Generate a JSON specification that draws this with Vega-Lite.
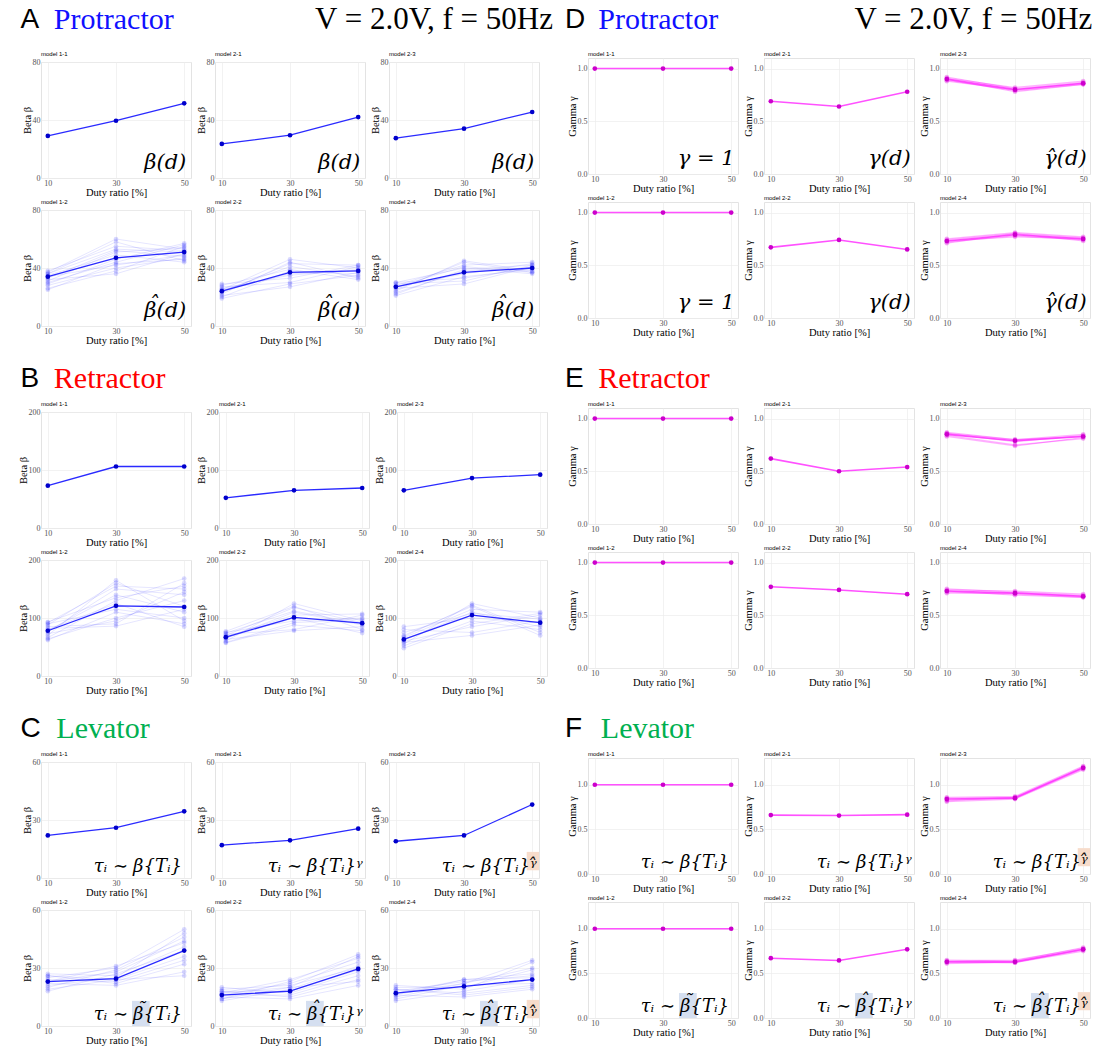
{
"$schema": "https://vega.github.io/schema/vega-lite/v6.json",
"padding": {"left": 17, "top": 4, "right": 0, "bottom": 0},
"background": "white",
"config": {
  "font": "Liberation Serif",
  "view": {"stroke": "#e3e3e3", "strokeWidth": 1},
  "axis": {"labelFont": "Liberation Serif", "labelFontSize": 8, "labelColor": "#555555", "titleFont": "Liberation Serif", "titleFontSize": 10.5, "titleFontWeight": "normal", "titleColor": "black", "ticks": false, "domain": false, "gridColor": "#ececec", "gridWidth": 0.7, "labelPadding": 1, "titlePadding": 0},
  "header": {"labelFont": "Liberation Sans", "labelFontSize": 6, "labelAnchor": "start", "labelPadding": 1, "labelColor": "black", "title": null},
  "text": {"font": "Liberation Serif"}
},
"datasets": {
"A": [
{"m":"model 1-1","k":0,"d":10,"v":29},{"m":"model 1-1","k":0,"d":30,"v":39.5},{"m":"model 1-1","k":0,"d":50,"v":51.5},
{"m":"model 2-1","k":0,"d":10,"v":23.5},{"m":"model 2-1","k":0,"d":30,"v":29.5},{"m":"model 2-1","k":0,"d":50,"v":42},
{"m":"model 2-3","k":0,"d":10,"v":27.5},{"m":"model 2-3","k":0,"d":30,"v":34},{"m":"model 2-3","k":0,"d":50,"v":45.5},
{"m":"model 1-2","k":0,"d":10,"v":34},{"m":"model 1-2","k":0,"d":30,"v":47},{"m":"model 1-2","k":0,"d":50,"v":51},
{"m":"model 1-2","k":1,"d":10,"v":36},{"m":"model 1-2","k":1,"d":30,"v":58},{"m":"model 1-2","k":1,"d":50,"v":45},
{"m":"model 1-2","k":2,"d":10,"v":26},{"m":"model 1-2","k":2,"d":30,"v":38},{"m":"model 1-2","k":2,"d":50,"v":55},
{"m":"model 1-2","k":3,"d":10,"v":33},{"m":"model 1-2","k":3,"d":30,"v":52},{"m":"model 1-2","k":3,"d":50,"v":48},
{"m":"model 1-2","k":4,"d":10,"v":30},{"m":"model 1-2","k":4,"d":30,"v":44},{"m":"model 1-2","k":4,"d":50,"v":56},
{"m":"model 1-2","k":5,"d":10,"v":38},{"m":"model 1-2","k":5,"d":30,"v":55},{"m":"model 1-2","k":5,"d":50,"v":52},
{"m":"model 1-2","k":6,"d":10,"v":28},{"m":"model 1-2","k":6,"d":30,"v":40},{"m":"model 1-2","k":6,"d":50,"v":47},
{"m":"model 1-2","k":7,"d":10,"v":35},{"m":"model 1-2","k":7,"d":30,"v":49},{"m":"model 1-2","k":7,"d":50,"v":44},
{"m":"model 1-2","k":8,"d":10,"v":32},{"m":"model 1-2","k":8,"d":30,"v":36},{"m":"model 1-2","k":8,"d":50,"v":50},
{"m":"model 1-2","k":9,"d":10,"v":37},{"m":"model 1-2","k":9,"d":30,"v":60},{"m":"model 1-2","k":9,"d":50,"v":53},
{"m":"model 1-2","k":10,"d":10,"v":29},{"m":"model 1-2","k":10,"d":30,"v":46},{"m":"model 1-2","k":10,"d":50,"v":57},
{"m":"model 1-2","k":11,"d":10,"v":34},{"m":"model 1-2","k":11,"d":30,"v":42},{"m":"model 1-2","k":11,"d":50,"v":49},
{"m":"model 1-2","k":12,"d":10,"v":31},{"m":"model 1-2","k":12,"d":30,"v":51},{"m":"model 1-2","k":12,"d":50,"v":54},
{"m":"model 1-2","k":13,"d":10,"v":25},{"m":"model 1-2","k":13,"d":30,"v":43},{"m":"model 1-2","k":13,"d":50,"v":46},
{"m":"model 1-2","k":14,"d":10,"v":36},{"m":"model 1-2","k":14,"d":30,"v":53},{"m":"model 1-2","k":14,"d":50,"v":51},
{"m":"model 2-2","k":0,"d":10,"v":24},{"m":"model 2-2","k":0,"d":30,"v":37},{"m":"model 2-2","k":0,"d":50,"v":38},
{"m":"model 2-2","k":1,"d":10,"v":22},{"m":"model 2-2","k":1,"d":30,"v":44},{"m":"model 2-2","k":1,"d":50,"v":33},
{"m":"model 2-2","k":2,"d":10,"v":27},{"m":"model 2-2","k":2,"d":30,"v":30},{"m":"model 2-2","k":2,"d":50,"v":41},
{"m":"model 2-2","k":3,"d":10,"v":20},{"m":"model 2-2","k":3,"d":30,"v":38},{"m":"model 2-2","k":3,"d":50,"v":36},
{"m":"model 2-2","k":4,"d":10,"v":25},{"m":"model 2-2","k":4,"d":30,"v":46},{"m":"model 2-2","k":4,"d":50,"v":40},
{"m":"model 2-2","k":5,"d":10,"v":29},{"m":"model 2-2","k":5,"d":30,"v":33},{"m":"model 2-2","k":5,"d":50,"v":42},
{"m":"model 2-2","k":6,"d":10,"v":21},{"m":"model 2-2","k":6,"d":30,"v":27},{"m":"model 2-2","k":6,"d":50,"v":37},
{"m":"model 2-2","k":7,"d":10,"v":24},{"m":"model 2-2","k":7,"d":30,"v":41},{"m":"model 2-2","k":7,"d":50,"v":34},
{"m":"model 2-2","k":8,"d":10,"v":26},{"m":"model 2-2","k":8,"d":30,"v":35},{"m":"model 2-2","k":8,"d":50,"v":39},
{"m":"model 2-2","k":9,"d":10,"v":19},{"m":"model 2-2","k":9,"d":30,"v":29},{"m":"model 2-2","k":9,"d":50,"v":35},
{"m":"model 2-2","k":10,"d":10,"v":23},{"m":"model 2-2","k":10,"d":30,"v":43},{"m":"model 2-2","k":10,"d":50,"v":42},
{"m":"model 2-2","k":11,"d":10,"v":28},{"m":"model 2-2","k":11,"d":30,"v":39},{"m":"model 2-2","k":11,"d":50,"v":32},
{"m":"model 2-2","k":12,"d":10,"v":25},{"m":"model 2-2","k":12,"d":30,"v":36},{"m":"model 2-2","k":12,"d":50,"v":38},
{"m":"model 2-4","k":0,"d":10,"v":27},{"m":"model 2-4","k":0,"d":30,"v":37},{"m":"model 2-4","k":0,"d":50,"v":40},
{"m":"model 2-4","k":1,"d":10,"v":25},{"m":"model 2-4","k":1,"d":30,"v":44},{"m":"model 2-4","k":1,"d":50,"v":37},
{"m":"model 2-4","k":2,"d":10,"v":29},{"m":"model 2-4","k":2,"d":30,"v":31},{"m":"model 2-4","k":2,"d":50,"v":42},
{"m":"model 2-4","k":3,"d":10,"v":23},{"m":"model 2-4","k":3,"d":30,"v":38},{"m":"model 2-4","k":3,"d":50,"v":40},
{"m":"model 2-4","k":4,"d":10,"v":28},{"m":"model 2-4","k":4,"d":30,"v":42},{"m":"model 2-4","k":4,"d":50,"v":44},
{"m":"model 2-4","k":5,"d":10,"v":21},{"m":"model 2-4","k":5,"d":30,"v":34},{"m":"model 2-4","k":5,"d":50,"v":39},
{"m":"model 2-4","k":6,"d":10,"v":30},{"m":"model 2-4","k":6,"d":30,"v":40},{"m":"model 2-4","k":6,"d":50,"v":36},
{"m":"model 2-4","k":7,"d":10,"v":26},{"m":"model 2-4","k":7,"d":30,"v":29},{"m":"model 2-4","k":7,"d":50,"v":41},
{"m":"model 2-4","k":8,"d":10,"v":27},{"m":"model 2-4","k":8,"d":30,"v":36},{"m":"model 2-4","k":8,"d":50,"v":43},
{"m":"model 2-4","k":9,"d":10,"v":24},{"m":"model 2-4","k":9,"d":30,"v":45},{"m":"model 2-4","k":9,"d":50,"v":38},
{"m":"model 2-4","k":10,"d":10,"v":30},{"m":"model 2-4","k":10,"d":30,"v":33},{"m":"model 2-4","k":10,"d":50,"v":40},
{"m":"model 2-4","k":11,"d":10,"v":22},{"m":"model 2-4","k":11,"d":30,"v":39},{"m":"model 2-4","k":11,"d":50,"v":42},
{"m":"model 2-4","k":12,"d":10,"v":27},{"m":"model 2-4","k":12,"d":30,"v":41},{"m":"model 2-4","k":12,"d":50,"v":37},
{"m":"model 1-1","tail":"β(d)"},{"m":"model 2-1","tail":"β(d)"},{"m":"model 2-3","tail":"β(d)"},
{"m":"model 1-2","tail":"β(d)","acc":"ˆ"},{"m":"model 2-2","tail":"β(d)","acc":"ˆ"},{"m":"model 2-4","tail":"β(d)","acc":"ˆ"}
],
"B": [
{"m":"model 1-1","k":0,"d":10,"v":73},{"m":"model 1-1","k":0,"d":30,"v":106},{"m":"model 1-1","k":0,"d":50,"v":106},
{"m":"model 2-1","k":0,"d":10,"v":52},{"m":"model 2-1","k":0,"d":30,"v":65},{"m":"model 2-1","k":0,"d":50,"v":69},
{"m":"model 2-3","k":0,"d":10,"v":65},{"m":"model 2-3","k":0,"d":30,"v":86},{"m":"model 2-3","k":0,"d":50,"v":92},
{"m":"model 1-2","k":0,"d":10,"v":78},{"m":"model 1-2","k":0,"d":30,"v":121},{"m":"model 1-2","k":0,"d":50,"v":119},
{"m":"model 1-2","k":1,"d":10,"v":70},{"m":"model 1-2","k":1,"d":30,"v":165},{"m":"model 1-2","k":1,"d":50,"v":95},
{"m":"model 1-2","k":2,"d":10,"v":85},{"m":"model 1-2","k":2,"d":30,"v":90},{"m":"model 1-2","k":2,"d":50,"v":160},
{"m":"model 1-2","k":3,"d":10,"v":78},{"m":"model 1-2","k":3,"d":30,"v":140},{"m":"model 1-2","k":3,"d":50,"v":110},
{"m":"model 1-2","k":4,"d":10,"v":92},{"m":"model 1-2","k":4,"d":30,"v":155},{"m":"model 1-2","k":4,"d":50,"v":150},
{"m":"model 1-2","k":5,"d":10,"v":64},{"m":"model 1-2","k":5,"d":30,"v":100},{"m":"model 1-2","k":5,"d":50,"v":130},
{"m":"model 1-2","k":6,"d":10,"v":80},{"m":"model 1-2","k":6,"d":30,"v":125},{"m":"model 1-2","k":6,"d":50,"v":85},
{"m":"model 1-2","k":7,"d":10,"v":88},{"m":"model 1-2","k":7,"d":30,"v":160},{"m":"model 1-2","k":7,"d":50,"v":120},
{"m":"model 1-2","k":8,"d":10,"v":73},{"m":"model 1-2","k":8,"d":30,"v":95},{"m":"model 1-2","k":8,"d":50,"v":145},
{"m":"model 1-2","k":9,"d":10,"v":66},{"m":"model 1-2","k":9,"d":30,"v":130},{"m":"model 1-2","k":9,"d":50,"v":168},
{"m":"model 1-2","k":10,"d":10,"v":90},{"m":"model 1-2","k":10,"d":30,"v":115},{"m":"model 1-2","k":10,"d":50,"v":100},
{"m":"model 1-2","k":11,"d":10,"v":76},{"m":"model 1-2","k":11,"d":30,"v":150},{"m":"model 1-2","k":11,"d":50,"v":140},
{"m":"model 1-2","k":12,"d":10,"v":82},{"m":"model 1-2","k":12,"d":30,"v":86},{"m":"model 1-2","k":12,"d":50,"v":115},
{"m":"model 1-2","k":13,"d":10,"v":62},{"m":"model 1-2","k":13,"d":30,"v":110},{"m":"model 1-2","k":13,"d":50,"v":90},
{"m":"model 1-2","k":14,"d":10,"v":93},{"m":"model 1-2","k":14,"d":30,"v":135},{"m":"model 1-2","k":14,"d":50,"v":155},
{"m":"model 2-2","k":0,"d":10,"v":67},{"m":"model 2-2","k":0,"d":30,"v":101},{"m":"model 2-2","k":0,"d":50,"v":91},
{"m":"model 2-2","k":1,"d":10,"v":60},{"m":"model 2-2","k":1,"d":30,"v":125},{"m":"model 2-2","k":1,"d":50,"v":95},
{"m":"model 2-2","k":2,"d":10,"v":72},{"m":"model 2-2","k":2,"d":30,"v":80},{"m":"model 2-2","k":2,"d":50,"v":105},
{"m":"model 2-2","k":3,"d":10,"v":65},{"m":"model 2-2","k":3,"d":30,"v":110},{"m":"model 2-2","k":3,"d":50,"v":88},
{"m":"model 2-2","k":4,"d":10,"v":75},{"m":"model 2-2","k":4,"d":30,"v":95},{"m":"model 2-2","k":4,"d":50,"v":100},
{"m":"model 2-2","k":5,"d":10,"v":57},{"m":"model 2-2","k":5,"d":30,"v":88},{"m":"model 2-2","k":5,"d":50,"v":78},
{"m":"model 2-2","k":6,"d":10,"v":70},{"m":"model 2-2","k":6,"d":30,"v":118},{"m":"model 2-2","k":6,"d":50,"v":92},
{"m":"model 2-2","k":7,"d":10,"v":63},{"m":"model 2-2","k":7,"d":30,"v":78},{"m":"model 2-2","k":7,"d":50,"v":85},
{"m":"model 2-2","k":8,"d":10,"v":68},{"m":"model 2-2","k":8,"d":30,"v":105},{"m":"model 2-2","k":8,"d":50,"v":107},
{"m":"model 2-2","k":9,"d":10,"v":77},{"m":"model 2-2","k":9,"d":30,"v":120},{"m":"model 2-2","k":9,"d":50,"v":80},
{"m":"model 2-2","k":10,"d":10,"v":58},{"m":"model 2-2","k":10,"d":30,"v":92},{"m":"model 2-2","k":10,"d":50,"v":98},
{"m":"model 2-2","k":11,"d":10,"v":66},{"m":"model 2-2","k":11,"d":30,"v":100},{"m":"model 2-2","k":11,"d":50,"v":74},
{"m":"model 2-2","k":12,"d":10,"v":74},{"m":"model 2-2","k":12,"d":30,"v":112},{"m":"model 2-2","k":12,"d":50,"v":90},
{"m":"model 2-4","k":0,"d":10,"v":63},{"m":"model 2-4","k":0,"d":30,"v":105},{"m":"model 2-4","k":0,"d":50,"v":92},
{"m":"model 2-4","k":1,"d":10,"v":55},{"m":"model 2-4","k":1,"d":30,"v":125},{"m":"model 2-4","k":1,"d":50,"v":100},
{"m":"model 2-4","k":2,"d":10,"v":80},{"m":"model 2-4","k":2,"d":30,"v":75},{"m":"model 2-4","k":2,"d":50,"v":95},
{"m":"model 2-4","k":3,"d":10,"v":62},{"m":"model 2-4","k":3,"d":30,"v":110},{"m":"model 2-4","k":3,"d":50,"v":85},
{"m":"model 2-4","k":4,"d":10,"v":48},{"m":"model 2-4","k":4,"d":30,"v":90},{"m":"model 2-4","k":4,"d":50,"v":108},
{"m":"model 2-4","k":5,"d":10,"v":70},{"m":"model 2-4","k":5,"d":30,"v":120},{"m":"model 2-4","k":5,"d":50,"v":70},
{"m":"model 2-4","k":6,"d":10,"v":85},{"m":"model 2-4","k":6,"d":30,"v":100},{"m":"model 2-4","k":6,"d":50,"v":92},
{"m":"model 2-4","k":7,"d":10,"v":58},{"m":"model 2-4","k":7,"d":30,"v":70},{"m":"model 2-4","k":7,"d":50,"v":88},
{"m":"model 2-4","k":8,"d":10,"v":66},{"m":"model 2-4","k":8,"d":30,"v":115},{"m":"model 2-4","k":8,"d":50,"v":110},
{"m":"model 2-4","k":9,"d":10,"v":52},{"m":"model 2-4","k":9,"d":30,"v":95},{"m":"model 2-4","k":9,"d":50,"v":80},
{"m":"model 2-4","k":10,"d":10,"v":75},{"m":"model 2-4","k":10,"d":30,"v":108},{"m":"model 2-4","k":10,"d":50,"v":98},
{"m":"model 2-4","k":11,"d":10,"v":60},{"m":"model 2-4","k":11,"d":30,"v":85},{"m":"model 2-4","k":11,"d":50,"v":105},
{"m":"model 2-4","k":12,"d":10,"v":68},{"m":"model 2-4","k":12,"d":30,"v":122},{"m":"model 2-4","k":12,"d":50,"v":75}
],
"C": [
{"m":"model 1-1","k":0,"d":10,"v":22},{"m":"model 1-1","k":0,"d":30,"v":26},{"m":"model 1-1","k":0,"d":50,"v":34.5},
{"m":"model 2-1","k":0,"d":10,"v":17},{"m":"model 2-1","k":0,"d":30,"v":19.5},{"m":"model 2-1","k":0,"d":50,"v":25.5},
{"m":"model 2-3","k":0,"d":10,"v":19},{"m":"model 2-3","k":0,"d":30,"v":22},{"m":"model 2-3","k":0,"d":50,"v":38},
{"m":"model 1-2","k":0,"d":10,"v":23},{"m":"model 1-2","k":0,"d":30,"v":24.5},{"m":"model 1-2","k":0,"d":50,"v":39},
{"m":"model 1-2","k":1,"d":10,"v":21},{"m":"model 1-2","k":1,"d":30,"v":25},{"m":"model 1-2","k":1,"d":50,"v":48},
{"m":"model 1-2","k":2,"d":10,"v":26},{"m":"model 1-2","k":2,"d":30,"v":22},{"m":"model 1-2","k":2,"d":50,"v":32},
{"m":"model 1-2","k":3,"d":10,"v":23},{"m":"model 1-2","k":3,"d":30,"v":28},{"m":"model 1-2","k":3,"d":50,"v":44},
{"m":"model 1-2","k":4,"d":10,"v":19},{"m":"model 1-2","k":4,"d":30,"v":24},{"m":"model 1-2","k":4,"d":50,"v":36},
{"m":"model 1-2","k":5,"d":10,"v":25},{"m":"model 1-2","k":5,"d":30,"v":30},{"m":"model 1-2","k":5,"d":50,"v":50},
{"m":"model 1-2","k":6,"d":10,"v":22},{"m":"model 1-2","k":6,"d":30,"v":21},{"m":"model 1-2","k":6,"d":50,"v":28},
{"m":"model 1-2","k":7,"d":10,"v":27},{"m":"model 1-2","k":7,"d":30,"v":26},{"m":"model 1-2","k":7,"d":50,"v":41},
{"m":"model 1-2","k":8,"d":10,"v":20},{"m":"model 1-2","k":8,"d":30,"v":29},{"m":"model 1-2","k":8,"d":50,"v":46},
{"m":"model 1-2","k":9,"d":10,"v":24},{"m":"model 1-2","k":9,"d":30,"v":23},{"m":"model 1-2","k":9,"d":50,"v":34},
{"m":"model 1-2","k":10,"d":10,"v":18},{"m":"model 1-2","k":10,"d":30,"v":27},{"m":"model 1-2","k":10,"d":50,"v":39},
{"m":"model 1-2","k":11,"d":10,"v":23},{"m":"model 1-2","k":11,"d":30,"v":31},{"m":"model 1-2","k":11,"d":50,"v":43},
{"m":"model 1-2","k":12,"d":10,"v":26},{"m":"model 1-2","k":12,"d":30,"v":24},{"m":"model 1-2","k":12,"d":50,"v":26},
{"m":"model 2-2","k":0,"d":10,"v":16},{"m":"model 2-2","k":0,"d":30,"v":18},{"m":"model 2-2","k":0,"d":50,"v":29.5},
{"m":"model 2-2","k":1,"d":10,"v":14},{"m":"model 2-2","k":1,"d":30,"v":20},{"m":"model 2-2","k":1,"d":50,"v":36},
{"m":"model 2-2","k":2,"d":10,"v":18},{"m":"model 2-2","k":2,"d":30,"v":15},{"m":"model 2-2","k":2,"d":50,"v":24},
{"m":"model 2-2","k":3,"d":10,"v":16},{"m":"model 2-2","k":3,"d":30,"v":22},{"m":"model 2-2","k":3,"d":50,"v":33},
{"m":"model 2-2","k":4,"d":10,"v":20},{"m":"model 2-2","k":4,"d":30,"v":17},{"m":"model 2-2","k":4,"d":50,"v":28},
{"m":"model 2-2","k":5,"d":10,"v":13},{"m":"model 2-2","k":5,"d":30,"v":19},{"m":"model 2-2","k":5,"d":50,"v":31},
{"m":"model 2-2","k":6,"d":10,"v":17},{"m":"model 2-2","k":6,"d":30,"v":24},{"m":"model 2-2","k":6,"d":50,"v":35},
{"m":"model 2-2","k":7,"d":10,"v":15},{"m":"model 2-2","k":7,"d":30,"v":14},{"m":"model 2-2","k":7,"d":50,"v":21},
{"m":"model 2-2","k":8,"d":10,"v":19},{"m":"model 2-2","k":8,"d":30,"v":21},{"m":"model 2-2","k":8,"d":50,"v":30},
{"m":"model 2-2","k":9,"d":10,"v":16},{"m":"model 2-2","k":9,"d":30,"v":16},{"m":"model 2-2","k":9,"d":50,"v":26},
{"m":"model 2-2","k":10,"d":10,"v":14},{"m":"model 2-2","k":10,"d":30,"v":23},{"m":"model 2-2","k":10,"d":50,"v":37},
{"m":"model 2-2","k":11,"d":10,"v":18},{"m":"model 2-2","k":11,"d":30,"v":18},{"m":"model 2-2","k":11,"d":50,"v":29},
{"m":"model 2-2","k":12,"d":10,"v":17},{"m":"model 2-2","k":12,"d":30,"v":20},{"m":"model 2-2","k":12,"d":50,"v":23},
{"m":"model 2-4","k":0,"d":10,"v":17},{"m":"model 2-4","k":0,"d":30,"v":20.5},{"m":"model 2-4","k":0,"d":50,"v":24},
{"m":"model 2-4","k":1,"d":10,"v":15},{"m":"model 2-4","k":1,"d":30,"v":22},{"m":"model 2-4","k":1,"d":50,"v":30},
{"m":"model 2-4","k":2,"d":10,"v":19},{"m":"model 2-4","k":2,"d":30,"v":16},{"m":"model 2-4","k":2,"d":50,"v":20},
{"m":"model 2-4","k":3,"d":10,"v":17},{"m":"model 2-4","k":3,"d":30,"v":24},{"m":"model 2-4","k":3,"d":50,"v":27},
{"m":"model 2-4","k":4,"d":10,"v":21},{"m":"model 2-4","k":4,"d":30,"v":19},{"m":"model 2-4","k":4,"d":50,"v":33},
{"m":"model 2-4","k":5,"d":10,"v":14},{"m":"model 2-4","k":5,"d":30,"v":21},{"m":"model 2-4","k":5,"d":50,"v":22},
{"m":"model 2-4","k":6,"d":10,"v":18},{"m":"model 2-4","k":6,"d":30,"v":23},{"m":"model 2-4","k":6,"d":50,"v":26},
{"m":"model 2-4","k":7,"d":10,"v":16},{"m":"model 2-4","k":7,"d":30,"v":15},{"m":"model 2-4","k":7,"d":50,"v":19},
{"m":"model 2-4","k":8,"d":10,"v":20},{"m":"model 2-4","k":8,"d":30,"v":20},{"m":"model 2-4","k":8,"d":50,"v":29},
{"m":"model 2-4","k":9,"d":10,"v":13},{"m":"model 2-4","k":9,"d":30,"v":18},{"m":"model 2-4","k":9,"d":50,"v":24},
{"m":"model 2-4","k":10,"d":10,"v":17},{"m":"model 2-4","k":10,"d":30,"v":22},{"m":"model 2-4","k":10,"d":50,"v":34},
{"m":"model 2-4","k":11,"d":10,"v":19},{"m":"model 2-4","k":11,"d":30,"v":17},{"m":"model 2-4","k":11,"d":50,"v":21},
{"m":"model 2-4","k":12,"d":10,"v":16},{"m":"model 2-4","k":12,"d":30,"v":24},{"m":"model 2-4","k":12,"d":50,"v":25},
{"m":"model 1-1","head":"τᵢ ∼","tail":"β{Tᵢ}"},
{"m":"model 2-1","head":"τᵢ ∼","tail":"β{Tᵢ}ᵞ"},
{"m":"model 2-3","head":"τᵢ ∼","tail":"β{Tᵢ}ᵞ\u0302","ob":1},
{"m":"model 1-2","head":"τᵢ ∼","tail":"β{Tᵢ}","acc":"˜","bb":1},
{"m":"model 2-2","head":"τᵢ ∼","tail":"β{Tᵢ}ᵞ","acc":"ˆ","bb":1},
{"m":"model 2-4","head":"τᵢ ∼","tail":"β{Tᵢ}ᵞ\u0302","acc":"ˆ","bb":1,"ob":1}
],
"D": [
{"m":"model 1-1","k":0,"d":10,"v":1},{"m":"model 1-1","k":0,"d":30,"v":1},{"m":"model 1-1","k":0,"d":50,"v":1},
{"m":"model 2-1","k":0,"d":10,"v":0.69},{"m":"model 2-1","k":0,"d":30,"v":0.64},{"m":"model 2-1","k":0,"d":50,"v":0.78},
{"m":"model 2-3","k":0,"d":10,"v":0.9},{"m":"model 2-3","k":0,"d":30,"v":0.8},{"m":"model 2-3","k":0,"d":50,"v":0.86},
{"m":"model 2-3","k":1,"d":10,"v":0.92},{"m":"model 2-3","k":1,"d":30,"v":0.81},{"m":"model 2-3","k":1,"d":50,"v":0.87},
{"m":"model 2-3","k":2,"d":10,"v":0.89},{"m":"model 2-3","k":2,"d":30,"v":0.79},{"m":"model 2-3","k":2,"d":50,"v":0.85},
{"m":"model 2-3","k":3,"d":10,"v":0.91},{"m":"model 2-3","k":3,"d":30,"v":0.82},{"m":"model 2-3","k":3,"d":50,"v":0.88},
{"m":"model 2-3","k":4,"d":10,"v":0.88},{"m":"model 2-3","k":4,"d":30,"v":0.8},{"m":"model 2-3","k":4,"d":50,"v":0.86},
{"m":"model 2-3","k":5,"d":10,"v":0.9},{"m":"model 2-3","k":5,"d":30,"v":0.78},{"m":"model 2-3","k":5,"d":50,"v":0.85},
{"m":"model 1-2","k":0,"d":10,"v":1},{"m":"model 1-2","k":0,"d":30,"v":1},{"m":"model 1-2","k":0,"d":50,"v":1},
{"m":"model 2-2","k":0,"d":10,"v":0.67},{"m":"model 2-2","k":0,"d":30,"v":0.74},{"m":"model 2-2","k":0,"d":50,"v":0.65},
{"m":"model 2-4","k":0,"d":10,"v":0.73},{"m":"model 2-4","k":0,"d":30,"v":0.79},{"m":"model 2-4","k":0,"d":50,"v":0.75},
{"m":"model 2-4","k":1,"d":10,"v":0.74},{"m":"model 2-4","k":1,"d":30,"v":0.8},{"m":"model 2-4","k":1,"d":50,"v":0.76},
{"m":"model 2-4","k":2,"d":10,"v":0.72},{"m":"model 2-4","k":2,"d":30,"v":0.78},{"m":"model 2-4","k":2,"d":50,"v":0.74},
{"m":"model 2-4","k":3,"d":10,"v":0.75},{"m":"model 2-4","k":3,"d":30,"v":0.81},{"m":"model 2-4","k":3,"d":50,"v":0.77},
{"m":"model 2-4","k":4,"d":10,"v":0.73},{"m":"model 2-4","k":4,"d":30,"v":0.77},{"m":"model 2-4","k":4,"d":50,"v":0.75},
{"m":"model 2-4","k":5,"d":10,"v":0.71},{"m":"model 2-4","k":5,"d":30,"v":0.8},{"m":"model 2-4","k":5,"d":50,"v":0.73},
{"m":"model 1-1","lab":"γ = 1"},{"m":"model 2-1","lab":"γ(d)"},{"m":"model 2-3","lab":"γ\u0302(d)"},
{"m":"model 1-2","lab":"γ = 1"},{"m":"model 2-2","lab":"γ(d)"},{"m":"model 2-4","lab":"γ\u0302(d)"}
],
"E": [
{"m":"model 1-1","k":0,"d":10,"v":1},{"m":"model 1-1","k":0,"d":30,"v":1},{"m":"model 1-1","k":0,"d":50,"v":1},
{"m":"model 2-1","k":0,"d":10,"v":0.62},{"m":"model 2-1","k":0,"d":30,"v":0.5},{"m":"model 2-1","k":0,"d":50,"v":0.54},
{"m":"model 2-3","k":0,"d":10,"v":0.85},{"m":"model 2-3","k":0,"d":30,"v":0.79},{"m":"model 2-3","k":0,"d":50,"v":0.83},
{"m":"model 2-3","k":1,"d":10,"v":0.87},{"m":"model 2-3","k":1,"d":30,"v":0.8},{"m":"model 2-3","k":1,"d":50,"v":0.85},
{"m":"model 2-3","k":2,"d":10,"v":0.84},{"m":"model 2-3","k":2,"d":30,"v":0.75},{"m":"model 2-3","k":2,"d":50,"v":0.81},
{"m":"model 2-3","k":3,"d":10,"v":0.86},{"m":"model 2-3","k":3,"d":30,"v":0.78},{"m":"model 2-3","k":3,"d":50,"v":0.84},
{"m":"model 2-3","k":4,"d":10,"v":0.83},{"m":"model 2-3","k":4,"d":30,"v":0.74},{"m":"model 2-3","k":4,"d":50,"v":0.82},
{"m":"model 2-3","k":5,"d":10,"v":0.86},{"m":"model 2-3","k":5,"d":30,"v":0.8},{"m":"model 2-3","k":5,"d":50,"v":0.83},
{"m":"model 1-2","k":0,"d":10,"v":1},{"m":"model 1-2","k":0,"d":30,"v":1},{"m":"model 1-2","k":0,"d":50,"v":1},
{"m":"model 2-2","k":0,"d":10,"v":0.77},{"m":"model 2-2","k":0,"d":30,"v":0.74},{"m":"model 2-2","k":0,"d":50,"v":0.7},
{"m":"model 2-4","k":0,"d":10,"v":0.73},{"m":"model 2-4","k":0,"d":30,"v":0.71},{"m":"model 2-4","k":0,"d":50,"v":0.68},
{"m":"model 2-4","k":1,"d":10,"v":0.75},{"m":"model 2-4","k":1,"d":30,"v":0.72},{"m":"model 2-4","k":1,"d":50,"v":0.69},
{"m":"model 2-4","k":2,"d":10,"v":0.72},{"m":"model 2-4","k":2,"d":30,"v":0.7},{"m":"model 2-4","k":2,"d":50,"v":0.67},
{"m":"model 2-4","k":3,"d":10,"v":0.74},{"m":"model 2-4","k":3,"d":30,"v":0.73},{"m":"model 2-4","k":3,"d":50,"v":0.7},
{"m":"model 2-4","k":4,"d":10,"v":0.73},{"m":"model 2-4","k":4,"d":30,"v":0.69},{"m":"model 2-4","k":4,"d":50,"v":0.67},
{"m":"model 2-4","k":5,"d":10,"v":0.71},{"m":"model 2-4","k":5,"d":30,"v":0.71},{"m":"model 2-4","k":5,"d":50,"v":0.68}
],
"F": [
{"m":"model 1-1","k":0,"d":10,"v":1},{"m":"model 1-1","k":0,"d":30,"v":1},{"m":"model 1-1","k":0,"d":50,"v":1},
{"m":"model 2-1","k":0,"d":10,"v":0.66},{"m":"model 2-1","k":0,"d":30,"v":0.655},{"m":"model 2-1","k":0,"d":50,"v":0.665},
{"m":"model 2-3","k":0,"d":10,"v":0.84},{"m":"model 2-3","k":0,"d":30,"v":0.85},{"m":"model 2-3","k":0,"d":50,"v":1.19},
{"m":"model 2-3","k":1,"d":10,"v":0.86},{"m":"model 2-3","k":1,"d":30,"v":0.87},{"m":"model 2-3","k":1,"d":50,"v":1.21},
{"m":"model 2-3","k":2,"d":10,"v":0.81},{"m":"model 2-3","k":2,"d":30,"v":0.84},{"m":"model 2-3","k":2,"d":50,"v":1.17},
{"m":"model 2-3","k":3,"d":10,"v":0.85},{"m":"model 2-3","k":3,"d":30,"v":0.86},{"m":"model 2-3","k":3,"d":50,"v":1.2},
{"m":"model 2-3","k":4,"d":10,"v":0.83},{"m":"model 2-3","k":4,"d":30,"v":0.85},{"m":"model 2-3","k":4,"d":50,"v":1.18},
{"m":"model 2-3","k":5,"d":10,"v":0.82},{"m":"model 2-3","k":5,"d":30,"v":0.86},{"m":"model 2-3","k":5,"d":50,"v":1.19},
{"m":"model 1-2","k":0,"d":10,"v":1},{"m":"model 1-2","k":0,"d":30,"v":1},{"m":"model 1-2","k":0,"d":50,"v":1},
{"m":"model 2-2","k":0,"d":10,"v":0.67},{"m":"model 2-2","k":0,"d":30,"v":0.645},{"m":"model 2-2","k":0,"d":50,"v":0.77},
{"m":"model 2-4","k":0,"d":10,"v":0.63},{"m":"model 2-4","k":0,"d":30,"v":0.63},{"m":"model 2-4","k":0,"d":50,"v":0.77},
{"m":"model 2-4","k":1,"d":10,"v":0.65},{"m":"model 2-4","k":1,"d":30,"v":0.64},{"m":"model 2-4","k":1,"d":50,"v":0.79},
{"m":"model 2-4","k":2,"d":10,"v":0.62},{"m":"model 2-4","k":2,"d":30,"v":0.62},{"m":"model 2-4","k":2,"d":50,"v":0.75},
{"m":"model 2-4","k":3,"d":10,"v":0.64},{"m":"model 2-4","k":3,"d":30,"v":0.65},{"m":"model 2-4","k":3,"d":50,"v":0.78},
{"m":"model 2-4","k":4,"d":10,"v":0.61},{"m":"model 2-4","k":4,"d":30,"v":0.63},{"m":"model 2-4","k":4,"d":50,"v":0.76},
{"m":"model 2-4","k":5,"d":10,"v":0.63},{"m":"model 2-4","k":5,"d":30,"v":0.62},{"m":"model 2-4","k":5,"d":50,"v":0.77},
{"m":"model 1-1","head":"τᵢ ∼","tail":"β{Tᵢ}"},
{"m":"model 2-1","head":"τᵢ ∼","tail":"β{Tᵢ}ᵞ"},
{"m":"model 2-3","head":"τᵢ ∼","tail":"β{Tᵢ}ᵞ\u0302","ob":1},
{"m":"model 1-2","head":"τᵢ ∼","tail":"β{Tᵢ}","acc":"˜","bb":1},
{"m":"model 2-2","head":"τᵢ ∼","tail":"β{Tᵢ}ᵞ","acc":"ˆ","bb":1},
{"m":"model 2-4","head":"τᵢ ∼","tail":"β{Tᵢ}ᵞ\u0302","acc":"ˆ","bb":1,"ob":1}
],
"T": [
{"sec":"A","muscle":"Protractor","cond":"V = 2.0V, f = 50Hz"},
{"sec":"B","muscle":"Retractor","cond":""},
{"sec":"C","muscle":"Levator","cond":""},
{"sec":"D","muscle":"Protractor","cond":"V = 2.0V, f = 50Hz"},
{"sec":"E","muscle":"Retractor","cond":""},
{"sec":"F","muscle":"Levator","cond":""}
]
},
"spacing": 18,
"vconcat": [
 {"spacing": 11, "hconcat": [
  {"spacing": 6, "vconcat": [
   {"width": 512, "height": 40, "view": {"stroke": null}, "data": {"name": "T"}, "transform": [{"filter": "datum.sec == 'A'"}],
    "encoding": {"y": {"datum": 0.6, "scale": {"domain": [0, 1]}, "axis": null}},
    "layer": [
     {"mark": {"type": "text", "font": "Liberation Sans", "fontSize": 28, "align": "left", "baseline": "middle", "color": "black"}, "encoding": {"text": {"field": "sec"}, "x": {"datum": -0.04, "scale": {"domain": [0, 1]}, "axis": null}}},
     {"mark": {"type": "text", "fontSize": 30, "align": "left", "baseline": "middle"}, "encoding": {"text": {"field": "muscle"}, "x": {"datum": 0.025}, "color": {"field": "muscle", "scale": {"domain": ["Protractor", "Retractor", "Levator"], "range": ["#1010ff", "#ff0000", "#00b050"]}, "legend": null}}},
     {"mark": {"type": "text", "fontSize": 31, "align": "right", "baseline": "middle", "color": "black"}, "encoding": {"text": {"field": "cond"}, "x": {"datum": 1.0}}}
    ]},
   {"data": {"name": "A"}, "columns": 3, "spacing": {"row": 0, "column": 3},
    "facet": {"field": "m", "type": "nominal", "sort": ["model 1-1","model 2-1","model 2-3","model 1-2","model 2-2","model 2-4"], "title": null},
    "resolve": {"axis": {"x": "independent", "y": "independent"}},
    "spec": {"width": 150, "height": 116,
     "layer": [
      {"transform": [{"filter": "datum.k > 0"}], "mark": {"type": "line", "color": "#0000ff", "opacity": 0.1, "strokeWidth": 1},
       "encoding": {"detail": {"field": "k"},
        "x": {"field": "d", "type": "quantitative", "scale": {"domain": [8, 52], "nice": false, "zero": false}, "axis": {"title": "Duty ratio [%]", "values": [10,20,30,40,50], "labelExpr": "datum.value == 20 || datum.value == 40 ? '' : datum.label"}},
        "y": {"field": "v", "type": "quantitative", "scale": {"domain": [0, 80], "nice": false}, "axis": {"title": "Beta  β", "values": [0,20,40,60,80], "labelExpr": "datum.value % 40 == 0 ? datum.label : ''"}}}},
      {"transform": [{"filter": "datum.k > 0"}], "mark": {"type": "point", "filled": true, "color": "#0000ff", "opacity": 0.15, "size": 22}, "encoding": {"x": {"field": "d", "type": "quantitative"}, "y": {"field": "v", "type": "quantitative"}}},
      {"transform": [{"filter": "datum.k === 0"}], "mark": {"type": "line", "color": "#2a2aff", "strokeWidth": 1.3}, "encoding": {"x": {"field": "d", "type": "quantitative"}, "y": {"field": "v", "type": "quantitative"}}},
      {"transform": [{"filter": "datum.k === 0"}], "mark": {"type": "point", "filled": true, "color": "#0000cc", "opacity": 1, "size": 22}, "encoding": {"x": {"field": "d", "type": "quantitative"}, "y": {"field": "v", "type": "quantitative"}}},
      {"transform": [{"filter": "datum.tail"}], "mark": {"type": "text", "font": "DejaVu Serif", "fontStyle": "italic", "fontSize": 21, "align": "left", "baseline": "alphabetic", "color": "black"}, "encoding": {"x": {"datum": 38.3}, "y": {"datum": 6}, "text": {"field": "tail"}}},
      {"transform": [{"filter": "datum.acc"}], "mark": {"type": "text", "font": "DejaVu Serif", "fontStyle": "italic", "fontSize": 21, "align": "left", "baseline": "alphabetic", "color": "black", "dx": 4, "dy": -6}, "encoding": {"x": {"datum": 38.3}, "y": {"datum": 6}, "text": {"field": "acc"}}}
     ]}}
  ]},
  {"spacing": 6, "vconcat": [
   {"width": 512, "height": 40, "view": {"stroke": null}, "data": {"name": "T"}, "transform": [{"filter": "datum.sec == 'D'"}],
    "encoding": {"y": {"datum": 0.6, "scale": {"domain": [0, 1]}, "axis": null}},
    "layer": [
     {"mark": {"type": "text", "font": "Liberation Sans", "fontSize": 28, "align": "left", "baseline": "middle", "color": "black"}, "encoding": {"text": {"field": "sec"}, "x": {"datum": -0.045, "scale": {"domain": [0, 1]}, "axis": null}}},
     {"mark": {"type": "text", "fontSize": 30, "align": "left", "baseline": "middle"}, "encoding": {"text": {"field": "muscle"}, "x": {"datum": 0.02}, "color": {"field": "muscle", "scale": {"domain": ["Protractor", "Retractor", "Levator"], "range": ["#1010ff", "#ff0000", "#00b050"]}, "legend": null}}},
     {"mark": {"type": "text", "fontSize": 31, "align": "right", "baseline": "middle", "color": "black"}, "encoding": {"text": {"field": "cond"}, "x": {"datum": 0.985}}}
    ]},
   {"data": {"name": "D"}, "columns": 3, "spacing": {"row": 0, "column": 3},
    "facet": {"field": "m", "type": "nominal", "sort": ["model 1-1","model 2-1","model 2-3","model 1-2","model 2-2","model 2-4"], "title": null},
    "resolve": {"axis": {"x": "independent", "y": "independent"}},
    "spec": {"width": 150, "height": 116,
     "layer": [
      {"transform": [{"filter": "datum.k > 0"}], "mark": {"type": "line", "color": "#ff00ff", "opacity": 0.3, "strokeWidth": 1.2},
       "encoding": {"detail": {"field": "k"},
        "x": {"field": "d", "type": "quantitative", "scale": {"domain": [8, 52], "nice": false, "zero": false}, "axis": {"title": "Duty ratio [%]", "values": [10,20,30,40,50], "labelExpr": "datum.value == 20 || datum.value == 40 ? '' : datum.label"}},
        "y": {"field": "v", "type": "quantitative", "scale": {"domain": [0, 1.1], "nice": false}, "axis": {"title": "Gamma  γ", "values": [0,0.25,0.5,0.75,1], "labelExpr": "datum.value == 0 || datum.value == 0.5 || datum.value == 1 ? format(datum.value, '.1f') : ''"}}}},
      {"transform": [{"filter": "datum.k > 0"}], "mark": {"type": "point", "filled": true, "color": "#dd00dd", "opacity": 0.3, "size": 22}, "encoding": {"x": {"field": "d", "type": "quantitative"}, "y": {"field": "v", "type": "quantitative"}}},
      {"transform": [{"filter": "datum.k === 0"}], "mark": {"type": "line", "color": "#ff33ff", "strokeWidth": 1.6, "opacity": 0.85}, "encoding": {"x": {"field": "d", "type": "quantitative"}, "y": {"field": "v", "type": "quantitative"}}},
      {"transform": [{"filter": "datum.k === 0"}], "mark": {"type": "point", "filled": true, "color": "#cc00cc", "opacity": 1, "size": 22}, "encoding": {"x": {"field": "d", "type": "quantitative"}, "y": {"field": "v", "type": "quantitative"}}},
      {"transform": [{"filter": "datum.lab"}], "mark": {"type": "text", "font": "DejaVu Serif", "fontStyle": "italic", "fontSize": 21, "align": "right", "baseline": "bottom", "color": "black"}, "encoding": {"x": {"datum": 51}, "y": {"datum": 0.05}, "text": {"field": "lab"}}}
     ]}}
  ]}
 ]},
 {"spacing": 11, "hconcat": [
  {"spacing": 6, "vconcat": [
   {"width": 512, "height": 30, "view": {"stroke": null}, "data": {"name": "T"}, "transform": [{"filter": "datum.sec == 'B'"}],
    "encoding": {"y": {"datum": 0.5, "scale": {"domain": [0, 1]}, "axis": null}},
    "layer": [
     {"mark": {"type": "text", "font": "Liberation Sans", "fontSize": 28, "align": "left", "baseline": "middle", "color": "black"}, "encoding": {"text": {"field": "sec"}, "x": {"datum": -0.04, "scale": {"domain": [0, 1]}, "axis": null}}},
     {"mark": {"type": "text", "fontSize": 30, "align": "left", "baseline": "middle"}, "encoding": {"text": {"field": "muscle"}, "x": {"datum": 0.025}, "color": {"field": "muscle", "scale": {"domain": ["Protractor", "Retractor", "Levator"], "range": ["#1010ff", "#ff0000", "#00b050"]}, "legend": null}}}
    ]},
   {"data": {"name": "B"}, "columns": 3, "spacing": {"row": 0, "column": 3},
    "facet": {"field": "m", "type": "nominal", "sort": ["model 1-1","model 2-1","model 2-3","model 1-2","model 2-2","model 2-4"], "title": null},
    "resolve": {"axis": {"x": "independent", "y": "independent"}},
    "spec": {"width": 150, "height": 116,
     "layer": [
      {"transform": [{"filter": "datum.k > 0"}], "mark": {"type": "line", "color": "#0000ff", "opacity": 0.1, "strokeWidth": 1},
       "encoding": {"detail": {"field": "k"},
        "x": {"field": "d", "type": "quantitative", "scale": {"domain": [8, 52], "nice": false, "zero": false}, "axis": {"title": "Duty ratio [%]", "values": [10,20,30,40,50], "labelExpr": "datum.value == 20 || datum.value == 40 ? '' : datum.label"}},
        "y": {"field": "v", "type": "quantitative", "scale": {"domain": [0, 200], "nice": false}, "axis": {"title": "Beta  β", "values": [0,50,100,150,200], "labelExpr": "datum.value % 100 == 0 ? datum.label : ''"}}}},
      {"transform": [{"filter": "datum.k > 0"}], "mark": {"type": "point", "filled": true, "color": "#0000ff", "opacity": 0.15, "size": 22}, "encoding": {"x": {"field": "d", "type": "quantitative"}, "y": {"field": "v", "type": "quantitative"}}},
      {"transform": [{"filter": "datum.k === 0"}], "mark": {"type": "line", "color": "#2a2aff", "strokeWidth": 1.3}, "encoding": {"x": {"field": "d", "type": "quantitative"}, "y": {"field": "v", "type": "quantitative"}}},
      {"transform": [{"filter": "datum.k === 0"}], "mark": {"type": "point", "filled": true, "color": "#0000cc", "opacity": 1, "size": 22}, "encoding": {"x": {"field": "d", "type": "quantitative"}, "y": {"field": "v", "type": "quantitative"}}}
     ]}}
  ]},
  {"spacing": 6, "vconcat": [
   {"width": 512, "height": 30, "view": {"stroke": null}, "data": {"name": "T"}, "transform": [{"filter": "datum.sec == 'E'"}],
    "encoding": {"y": {"datum": 0.5, "scale": {"domain": [0, 1]}, "axis": null}},
    "layer": [
     {"mark": {"type": "text", "font": "Liberation Sans", "fontSize": 28, "align": "left", "baseline": "middle", "color": "black"}, "encoding": {"text": {"field": "sec"}, "x": {"datum": -0.045, "scale": {"domain": [0, 1]}, "axis": null}}},
     {"mark": {"type": "text", "fontSize": 30, "align": "left", "baseline": "middle"}, "encoding": {"text": {"field": "muscle"}, "x": {"datum": 0.02}, "color": {"field": "muscle", "scale": {"domain": ["Protractor", "Retractor", "Levator"], "range": ["#1010ff", "#ff0000", "#00b050"]}, "legend": null}}}
    ]},
   {"data": {"name": "E"}, "columns": 3, "spacing": {"row": 0, "column": 3},
    "facet": {"field": "m", "type": "nominal", "sort": ["model 1-1","model 2-1","model 2-3","model 1-2","model 2-2","model 2-4"], "title": null},
    "resolve": {"axis": {"x": "independent", "y": "independent"}},
    "spec": {"width": 150, "height": 116,
     "layer": [
      {"transform": [{"filter": "datum.k > 0"}], "mark": {"type": "line", "color": "#ff00ff", "opacity": 0.3, "strokeWidth": 1.2},
       "encoding": {"detail": {"field": "k"},
        "x": {"field": "d", "type": "quantitative", "scale": {"domain": [8, 52], "nice": false, "zero": false}, "axis": {"title": "Duty ratio [%]", "values": [10,20,30,40,50], "labelExpr": "datum.value == 20 || datum.value == 40 ? '' : datum.label"}},
        "y": {"field": "v", "type": "quantitative", "scale": {"domain": [0, 1.1], "nice": false}, "axis": {"title": "Gamma  γ", "values": [0,0.25,0.5,0.75,1], "labelExpr": "datum.value == 0 || datum.value == 0.5 || datum.value == 1 ? format(datum.value, '.1f') : ''"}}}},
      {"transform": [{"filter": "datum.k > 0"}], "mark": {"type": "point", "filled": true, "color": "#dd00dd", "opacity": 0.3, "size": 22}, "encoding": {"x": {"field": "d", "type": "quantitative"}, "y": {"field": "v", "type": "quantitative"}}},
      {"transform": [{"filter": "datum.k === 0"}], "mark": {"type": "line", "color": "#ff33ff", "strokeWidth": 1.6, "opacity": 0.85}, "encoding": {"x": {"field": "d", "type": "quantitative"}, "y": {"field": "v", "type": "quantitative"}}},
      {"transform": [{"filter": "datum.k === 0"}], "mark": {"type": "point", "filled": true, "color": "#cc00cc", "opacity": 1, "size": 22}, "encoding": {"x": {"field": "d", "type": "quantitative"}, "y": {"field": "v", "type": "quantitative"}}}
     ]}}
  ]}
 ]},
 {"spacing": 11, "hconcat": [
  {"spacing": 6, "vconcat": [
   {"width": 512, "height": 30, "view": {"stroke": null}, "data": {"name": "T"}, "transform": [{"filter": "datum.sec == 'C'"}],
    "encoding": {"y": {"datum": 0.5, "scale": {"domain": [0, 1]}, "axis": null}},
    "layer": [
     {"mark": {"type": "text", "font": "Liberation Sans", "fontSize": 28, "align": "left", "baseline": "middle", "color": "black"}, "encoding": {"text": {"field": "sec"}, "x": {"datum": -0.04, "scale": {"domain": [0, 1]}, "axis": null}}},
     {"mark": {"type": "text", "fontSize": 30, "align": "left", "baseline": "middle"}, "encoding": {"text": {"field": "muscle"}, "x": {"datum": 0.03}, "color": {"field": "muscle", "scale": {"domain": ["Protractor", "Retractor", "Levator"], "range": ["#1010ff", "#ff0000", "#00b050"]}, "legend": null}}}
    ]},
   {"data": {"name": "C"}, "columns": 3, "spacing": {"row": 0, "column": 3},
    "facet": {"field": "m", "type": "nominal", "sort": ["model 1-1","model 2-1","model 2-3","model 1-2","model 2-2","model 2-4"], "title": null},
    "resolve": {"axis": {"x": "independent", "y": "independent"}},
    "spec": {"width": 150, "height": 116,
     "layer": [
      {"transform": [{"filter": "datum.k > 0"}], "mark": {"type": "line", "color": "#0000ff", "opacity": 0.1, "strokeWidth": 1},
       "encoding": {"detail": {"field": "k"},
        "x": {"field": "d", "type": "quantitative", "scale": {"domain": [8, 52], "nice": false, "zero": false}, "axis": {"title": "Duty ratio [%]", "values": [10,20,30,40,50], "labelExpr": "datum.value == 20 || datum.value == 40 ? '' : datum.label"}},
        "y": {"field": "v", "type": "quantitative", "scale": {"domain": [0, 60], "nice": false}, "axis": {"title": "Beta  β", "values": [0,15,30,45,60], "labelExpr": "datum.value % 30 == 0 ? datum.label : ''"}}}},
      {"transform": [{"filter": "datum.bb"}], "mark": {"type": "rect", "color": "#d5dff0"}, "encoding": {"x": {"datum": 34.7}, "x2": {"datum": 39.9}, "y": {"datum": 0}, "y2": {"datum": 13}}},
      {"transform": [{"filter": "datum.ob"}], "mark": {"type": "rect", "color": "#f7dccb"}, "encoding": {"x": {"datum": 48.4}, "x2": {"datum": 52}, "y": {"datum": 4}, "y2": {"datum": 13.5}}},
      {"transform": [{"filter": "datum.k > 0"}], "mark": {"type": "point", "filled": true, "color": "#0000ff", "opacity": 0.15, "size": 22}, "encoding": {"x": {"field": "d", "type": "quantitative"}, "y": {"field": "v", "type": "quantitative"}}},
      {"transform": [{"filter": "datum.k === 0"}], "mark": {"type": "line", "color": "#2a2aff", "strokeWidth": 1.3}, "encoding": {"x": {"field": "d", "type": "quantitative"}, "y": {"field": "v", "type": "quantitative"}}},
      {"transform": [{"filter": "datum.k === 0"}], "mark": {"type": "point", "filled": true, "color": "#0000cc", "opacity": 1, "size": 22}, "encoding": {"x": {"field": "d", "type": "quantitative"}, "y": {"field": "v", "type": "quantitative"}}},
      {"transform": [{"filter": "datum.head"}], "mark": {"type": "text", "font": "DejaVu Serif", "fontStyle": "italic", "fontSize": 18, "align": "right", "baseline": "alphabetic", "color": "black", "dx": -5}, "encoding": {"x": {"datum": 35}, "y": {"datum": 3}, "text": {"field": "head"}}},
      {"transform": [{"filter": "datum.tail"}], "mark": {"type": "text", "font": "DejaVu Serif", "fontStyle": "italic", "fontSize": 18, "align": "left", "baseline": "alphabetic", "color": "black"}, "encoding": {"x": {"datum": 35}, "y": {"datum": 3}, "text": {"field": "tail"}}},
      {"transform": [{"filter": "datum.acc"}], "mark": {"type": "text", "font": "DejaVu Serif", "fontStyle": "italic", "fontSize": 18, "align": "left", "baseline": "alphabetic", "color": "black", "dx": 3.7, "dy": -5.5}, "encoding": {"x": {"datum": 35}, "y": {"datum": 3}, "text": {"field": "acc"}}}
     ]}}
  ]},
  {"spacing": 6, "vconcat": [
   {"width": 512, "height": 30, "view": {"stroke": null}, "data": {"name": "T"}, "transform": [{"filter": "datum.sec == 'F'"}],
    "encoding": {"y": {"datum": 0.5, "scale": {"domain": [0, 1]}, "axis": null}},
    "layer": [
     {"mark": {"type": "text", "font": "Liberation Sans", "fontSize": 28, "align": "left", "baseline": "middle", "color": "black"}, "encoding": {"text": {"field": "sec"}, "x": {"datum": -0.045, "scale": {"domain": [0, 1]}, "axis": null}}},
     {"mark": {"type": "text", "fontSize": 30, "align": "left", "baseline": "middle"}, "encoding": {"text": {"field": "muscle"}, "x": {"datum": 0.025}, "color": {"field": "muscle", "scale": {"domain": ["Protractor", "Retractor", "Levator"], "range": ["#1010ff", "#ff0000", "#00b050"]}, "legend": null}}}
    ]},
   {"data": {"name": "F"}, "columns": 3, "spacing": {"row": 0, "column": 3},
    "facet": {"field": "m", "type": "nominal", "sort": ["model 1-1","model 2-1","model 2-3","model 1-2","model 2-2","model 2-4"], "title": null},
    "resolve": {"axis": {"x": "independent", "y": "independent"}},
    "spec": {"width": 150, "height": 116,
     "layer": [
      {"transform": [{"filter": "datum.k > 0"}], "mark": {"type": "line", "color": "#ff00ff", "opacity": 0.3, "strokeWidth": 1.2},
       "encoding": {"detail": {"field": "k"},
        "x": {"field": "d", "type": "quantitative", "scale": {"domain": [8, 52], "nice": false, "zero": false}, "axis": {"title": "Duty ratio [%]", "values": [10,20,30,40,50], "labelExpr": "datum.value == 20 || datum.value == 40 ? '' : datum.label"}},
        "y": {"field": "v", "type": "quantitative", "scale": {"domain": [0, 1.3], "nice": false}, "axis": {"title": "Gamma  γ", "values": [0,0.25,0.5,0.75,1,1.25], "labelExpr": "datum.value == 0 || datum.value == 0.5 || datum.value == 1 ? format(datum.value, '.1f') : ''"}}}},
      {"transform": [{"filter": "datum.bb"}], "mark": {"type": "rect", "color": "#d5dff0"}, "encoding": {"x": {"datum": 34.7}, "x2": {"datum": 39.9}, "y": {"datum": 0}, "y2": {"datum": 0.28}}},
      {"transform": [{"filter": "datum.ob"}], "mark": {"type": "rect", "color": "#f7dccb"}, "encoding": {"x": {"datum": 48.4}, "x2": {"datum": 52}, "y": {"datum": 0.087}, "y2": {"datum": 0.29}}},
      {"transform": [{"filter": "datum.k > 0"}], "mark": {"type": "point", "filled": true, "color": "#dd00dd", "opacity": 0.3, "size": 22}, "encoding": {"x": {"field": "d", "type": "quantitative"}, "y": {"field": "v", "type": "quantitative"}}},
      {"transform": [{"filter": "datum.k === 0"}], "mark": {"type": "line", "color": "#ff33ff", "strokeWidth": 1.6, "opacity": 0.85}, "encoding": {"x": {"field": "d", "type": "quantitative"}, "y": {"field": "v", "type": "quantitative"}}},
      {"transform": [{"filter": "datum.k === 0"}], "mark": {"type": "point", "filled": true, "color": "#cc00cc", "opacity": 1, "size": 22}, "encoding": {"x": {"field": "d", "type": "quantitative"}, "y": {"field": "v", "type": "quantitative"}}},
      {"transform": [{"filter": "datum.head"}], "mark": {"type": "text", "font": "DejaVu Serif", "fontStyle": "italic", "fontSize": 18, "align": "right", "baseline": "alphabetic", "color": "black", "dx": -5}, "encoding": {"x": {"datum": 35}, "y": {"datum": 0.065}, "text": {"field": "head"}}},
      {"transform": [{"filter": "datum.tail"}], "mark": {"type": "text", "font": "DejaVu Serif", "fontStyle": "italic", "fontSize": 18, "align": "left", "baseline": "alphabetic", "color": "black"}, "encoding": {"x": {"datum": 35}, "y": {"datum": 0.065}, "text": {"field": "tail"}}},
      {"transform": [{"filter": "datum.acc"}], "mark": {"type": "text", "font": "DejaVu Serif", "fontStyle": "italic", "fontSize": 18, "align": "left", "baseline": "alphabetic", "color": "black", "dx": 3.7, "dy": -5.5}, "encoding": {"x": {"datum": 35}, "y": {"datum": 0.065}, "text": {"field": "acc"}}}
     ]}}
  ]}
 ]}
]
}
